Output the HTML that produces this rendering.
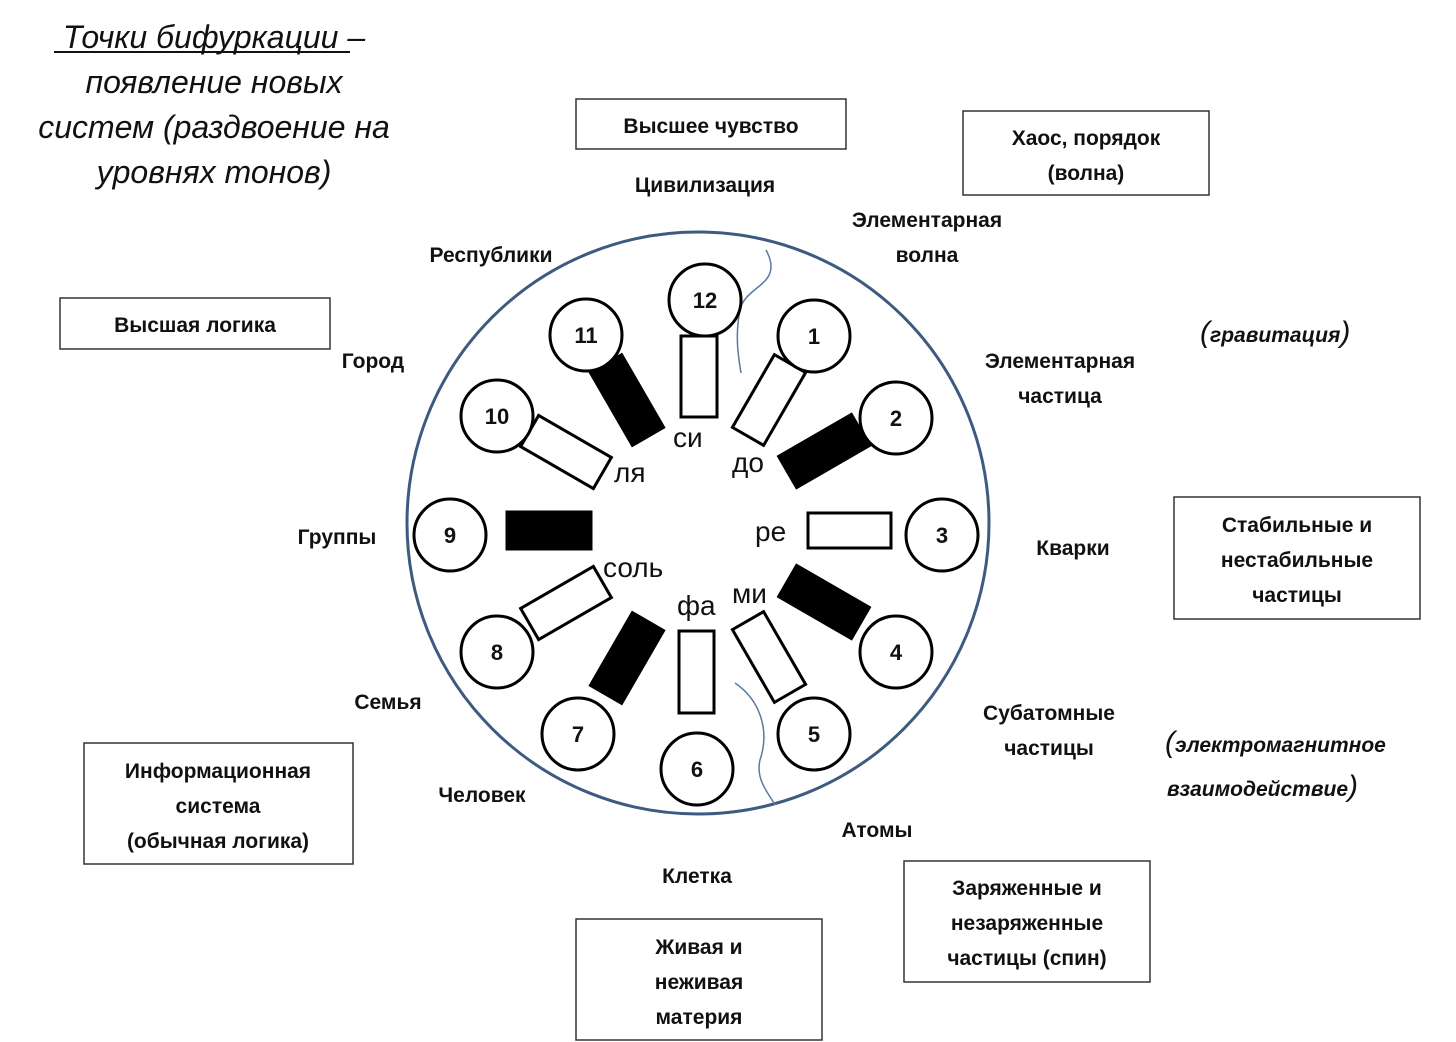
<!DOCTYPE html>
<html><head><meta charset="utf-8"><style>
html,body{margin:0;padding:0;background:#fff;}
svg{display:block;}
text{font-family:"Liberation Sans",sans-serif;fill:#111;}
.b{font-weight:bold;font-size:21px;}
.n{font-weight:bold;font-size:22px;}
.t{font-size:32px;font-style:italic;}
.s{font-size:28px;}
</style></head><body>
<svg width="1456" height="1042" viewBox="0 0 1456 1042">
<!-- title -->
<g class="t" text-anchor="middle">
<text x="214" y="48">Точки бифуркации –</text>
<text x="214" y="93">появление новых</text>
<text x="214" y="138">систем (раздвоение на</text>
<text x="214" y="183">уровнях тонов)</text>
</g>
<line x1="54" y1="52" x2="350" y2="52" stroke="#111" stroke-width="2"/>

<!-- main circle -->
<circle cx="698" cy="523" r="291" fill="none" stroke="#3d5a80" stroke-width="3"/>
<path d="M766,250 C785,285 745,285 740,310 C735,335 738,355 741,373" fill="none" stroke="#5a7aa0" stroke-width="1.5"/>
<path d="M735,683 C760,700 770,730 760,760 C755,780 770,795 775,805" fill="none" stroke="#5a7aa0" stroke-width="1.5"/>

<!-- rects -->
<g stroke="#000" stroke-width="3">
<rect x="681" y="336" width="36" height="81" fill="#fff"/>
<rect x="679" y="631" width="35" height="82" fill="#fff"/>
<rect x="808" y="513" width="83" height="35" fill="#fff"/>
<rect x="507" y="512" width="84" height="37" fill="#000"/>
<rect x="-18" y="-42" width="36" height="84" fill="#fff" transform="translate(769,400) rotate(30)"/>
<rect x="-18" y="-42" width="36" height="84" fill="#000" transform="translate(824,451) rotate(60)"/>
<rect x="-18" y="-42" width="36" height="84" fill="#000" transform="translate(824,602) rotate(120)"/>
<rect x="-18" y="-42" width="36" height="84" fill="#fff" transform="translate(769,657) rotate(150)"/>
<rect x="-18" y="-42" width="36" height="84" fill="#000" transform="translate(627,658) rotate(30)"/>
<rect x="-18" y="-42" width="36" height="84" fill="#fff" transform="translate(566,603) rotate(60)"/>
<rect x="-18" y="-42" width="36" height="84" fill="#fff" transform="translate(566,452) rotate(-60)"/>
<rect x="-18" y="-42" width="36" height="84" fill="#000" transform="translate(627,400) rotate(-30)"/>
</g>

<!-- small circles -->
<g fill="#fff" stroke="#000" stroke-width="3">
<circle cx="705" cy="300" r="36"/><circle cx="814" cy="336" r="36"/><circle cx="896" cy="418" r="36"/>
<circle cx="942" cy="535" r="36"/><circle cx="896" cy="652" r="36"/><circle cx="814" cy="734" r="36"/>
<circle cx="697" cy="769" r="36"/><circle cx="578" cy="734" r="36"/><circle cx="497" cy="652" r="36"/>
<circle cx="450" cy="535" r="36"/><circle cx="497" cy="416" r="36"/><circle cx="586" cy="335" r="36"/>
</g>
<g class="n" text-anchor="middle">
<text x="705" y="308">12</text><text x="814" y="344">1</text><text x="896" y="426">2</text>
<text x="942" y="543">3</text><text x="896" y="660">4</text><text x="814" y="742">5</text>
<text x="697" y="777">6</text><text x="578" y="742">7</text><text x="497" y="660">8</text>
<text x="450" y="543">9</text><text x="497" y="424">10</text><text x="586" y="343">11</text>
</g>

<!-- note names -->
<g class="s">
<text x="673" y="447">си</text>
<text x="732" y="472">до</text>
<text x="755" y="541">ре</text>
<text x="732" y="603">ми</text>
<text x="677" y="615">фа</text>
<text x="603" y="577">соль</text>
<text x="614" y="482">ля</text>
</g>

<!-- labels -->
<g class="b" text-anchor="middle">
<text x="705" y="192">Цивилизация</text>
<text x="927" y="227">Элементарная</text>
<text x="927" y="262">волна</text>
<text x="491" y="262">Республики</text>
<text x="373" y="368">Город</text>
<text x="1060" y="368">Элементарная</text>
<text x="1060" y="403">частица</text>
<text x="337" y="544">Группы</text>
<text x="1073" y="555">Кварки</text>
<text x="388" y="709">Семья</text>
<text x="1049" y="720">Субатомные</text>
<text x="1049" y="755">частицы</text>
<text x="482" y="802">Человек</text>
<text x="877" y="837">Атомы</text>
<text x="697" y="883">Клетка</text>
</g>
<g font-style="italic" font-weight="bold" font-size="21" fill="#333">
<text x="1200" y="342" style="font-size:21px"><tspan font-size="30" font-weight="normal">(</tspan>гравитация<tspan font-size="30" font-weight="normal">)</tspan></text>
<text x="1165" y="752"><tspan font-size="30" font-weight="normal">(</tspan>электромагнитное</text>
<text x="1167" y="796">взаимодействие<tspan font-size="30" font-weight="normal">)</tspan></text>
</g>

<!-- boxes -->
<g fill="#fff" stroke="#333" stroke-width="1.5">
<rect x="576" y="99" width="270" height="50"/>
<rect x="963" y="111" width="246" height="84"/>
<rect x="60" y="298" width="270" height="51"/>
<rect x="1174" y="497" width="246" height="122"/>
<rect x="84" y="743" width="269" height="121"/>
<rect x="904" y="861" width="246" height="121"/>
<rect x="576" y="919" width="246" height="121"/>
</g>
<g class="b" text-anchor="middle">
<text x="711" y="133">Высшее чувство</text>
<text x="1086" y="145">Хаос,  порядок</text>
<text x="1086" y="180">(волна)</text>
<text x="195" y="332">Высшая логика</text>
<text x="1297" y="532">Стабильные и</text>
<text x="1297" y="567">нестабильные</text>
<text x="1297" y="602">частицы</text>
<text x="218" y="778">Информационная</text>
<text x="218" y="813">система</text>
<text x="218" y="848">(обычная логика)</text>
<text x="1027" y="895">Заряженные и</text>
<text x="1027" y="930">незаряженные</text>
<text x="1027" y="965">частицы (спин)</text>
<text x="699" y="954">Живая и</text>
<text x="699" y="989">неживая</text>
<text x="699" y="1024">материя</text>
</g>
</svg>
</body></html>
